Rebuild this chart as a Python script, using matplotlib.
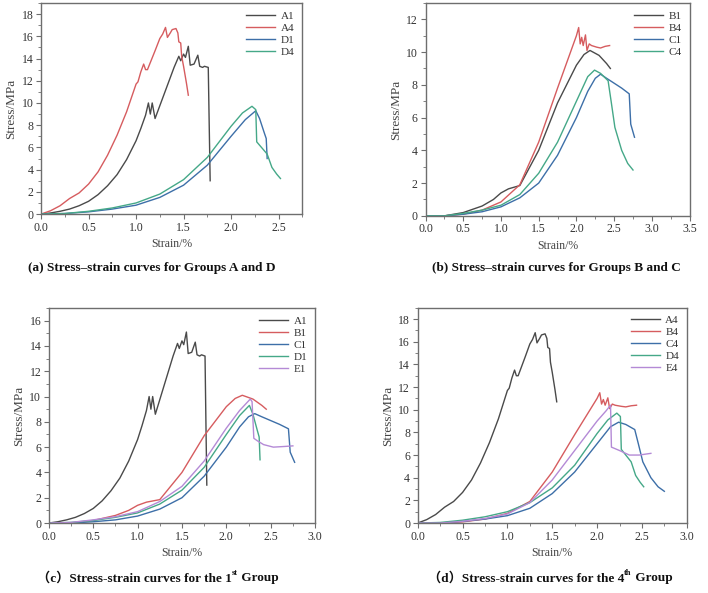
import matplotlib
matplotlib.use("Agg")
import matplotlib.pyplot as plt
import matplotlib.ticker as ticker

plt.rcParams["font.family"] = ["Liberation Serif", "Noto Sans CJK SC", "DejaVu Sans"]

# Specimen curves (strain %, stress MPa)
a1_strain = [0, 0.1, 0.2, 0.3, 0.4, 0.5, 0.6, 0.7, 0.8, 0.9, 1.0, 1.05, 1.1, 1.13, 1.15, 1.17,
             1.2, 1.3, 1.4, 1.45, 1.47, 1.5, 1.52, 1.55, 1.57, 1.61, 1.65, 1.67, 1.7, 1.72,
             1.76, 1.77, 1.78]
a1_stress = [0, 0.1, 0.25, 0.45, 0.75, 1.15, 1.75, 2.55, 3.55, 4.9, 6.6, 7.7, 8.9, 10.0, 9.0, 10.0,
             8.6, 10.9, 13.2, 14.2, 13.8, 14.4, 14.1, 15.1, 13.4, 13.5, 14.3, 13.3, 13.2, 13.3,
             13.2, 8.0, 3.0]

a4_strain = [0, 0.1, 0.2, 0.3, 0.4, 0.5, 0.6, 0.7, 0.8, 0.9, 1.0, 1.02, 1.05, 1.08, 1.1, 1.12,
             1.2, 1.25, 1.28, 1.31, 1.33, 1.36, 1.38, 1.42, 1.44, 1.45, 1.47, 1.48, 1.5, 1.53, 1.55]
a4_stress = [0, 0.3, 0.75, 1.4, 1.9, 2.7, 3.8, 5.3, 7.1, 9.2, 11.7, 11.9, 12.8, 13.5, 13.0, 13.0,
             14.7, 15.8, 16.2, 16.8, 15.9, 16.3, 16.6, 16.7, 16.3, 15.5, 15.4, 14.2, 13.3, 11.8, 10.7]

b1_strain = [0, 0.25, 0.5, 0.75, 0.9, 1.0, 1.1, 1.25, 1.5, 1.75, 2.0, 2.1, 2.18, 2.3, 2.4, 2.45]
b1_stress = [0, 0.0, 0.2, 0.6, 1.0, 1.4, 1.65, 1.85, 4.0, 6.9, 9.2, 9.85, 10.1, 9.8, 9.3, 9.0]

b4_strain = [0, 0.25, 0.5, 0.75, 1.0, 1.25, 1.5, 1.75, 2.0, 2.03, 2.05, 2.07, 2.09, 2.12, 2.14,
             2.17, 2.2, 2.27, 2.32, 2.38, 2.44]
b4_stress = [0, 0.0, 0.1, 0.35, 0.85, 1.9, 4.5, 7.8, 11.0, 11.5, 10.5, 10.9, 10.4, 11.05, 10.1,
             10.5, 10.4, 10.3, 10.25, 10.35, 10.4]

c1_strain = [0, 0.25, 0.5, 0.75, 1.0, 1.25, 1.5, 1.75, 2.0, 2.15, 2.25, 2.32, 2.4, 2.5, 2.6,
             2.7, 2.72, 2.77]
c1_stress = [0, 0.0, 0.1, 0.25, 0.55, 1.1, 2.0, 3.7, 6.0, 7.6, 8.4, 8.65, 8.4, 8.1, 7.8,
             7.45, 5.6, 4.8]

c4_strain = [0, 0.25, 0.5, 0.75, 1.0, 1.25, 1.5, 1.75, 2.0, 2.15, 2.24, 2.32, 2.42, 2.46, 2.51,
             2.6, 2.68, 2.75]
c4_stress = [0, 0.0, 0.15, 0.35, 0.65, 1.3, 2.6, 4.5, 7.0, 8.5, 8.9, 8.7, 8.25, 7.0, 5.4,
             4.0, 3.2, 2.8]

d1_strain = [0, 0.25, 0.5, 0.75, 1.0, 1.25, 1.5, 1.75, 2.0, 2.15, 2.26, 2.3, 2.35, 2.37, 2.38]
d1_stress = [0, 0.05, 0.2, 0.45, 0.8, 1.5, 2.6, 4.4, 7.0, 8.5, 9.3, 8.6, 7.3, 6.8, 5.0]

d4_strain = [0, 0.25, 0.5, 0.75, 1.0, 1.25, 1.5, 1.75, 2.0, 2.12, 2.22, 2.26, 2.27, 2.33, 2.38,
             2.43, 2.48, 2.52]
d4_stress = [0, 0.05, 0.25, 0.55, 1.0, 1.8, 3.1, 5.1, 7.9, 9.1, 9.7, 9.4, 6.5, 5.9, 5.4,
             4.2, 3.6, 3.2]

e1_strain = [0, 0.25, 0.5, 0.75, 1.0, 1.25, 1.5, 1.75, 2.0, 2.15, 2.27, 2.29, 2.31, 2.35, 2.42,
             2.53, 2.65, 2.75]
e1_stress = [0, 0.05, 0.25, 0.5, 0.9, 1.7, 2.9, 4.9, 7.5, 8.9, 9.8, 9.6, 6.7, 6.5, 6.2,
             6.0, 6.05, 6.1]

e4_strain = [0, 0.25, 0.5, 0.75, 1.0, 1.25, 1.5, 1.75, 2.0, 2.1, 2.15, 2.16, 2.25, 2.36, 2.47, 2.6]
e4_stress = [0, 0.0, 0.15, 0.4, 0.8, 1.8, 3.8, 6.4, 9.0, 9.9, 10.4, 6.7, 6.4, 6.0, 6.0, 6.15]

curves = {
    "A1": (a1_strain, a1_stress), "A4": (a4_strain, a4_stress),
    "B1": (b1_strain, b1_stress), "B4": (b4_strain, b4_stress),
    "C1": (c1_strain, c1_stress), "C4": (c4_strain, c4_stress),
    "D1": (d1_strain, d1_stress), "D4": (d4_strain, d4_stress),
    "E1": (e1_strain, e1_stress), "E4": (e4_strain, e4_stress),
}

colors = ["#4a4a4a", "#d65c5f", "#3d6fa8", "#45a888", "#b48ad6"]

panel_a = ["A1", "A4", "D1", "D4"]
panel_b = ["B1", "B4", "C1", "C4"]
panel_c = ["A1", "B1", "C1", "D1", "E1"]
panel_d = ["A4", "B4", "C4", "D4", "E4"]

# caption pieces: (text, is_superscript)
caption_a = [("(a) Stress\u2013strain curves for Groups A and D", False)]
caption_b = [("(b) Stress\u2013strain curves for Groups B and C", False)]
caption_c = [("\uff08c\uff09Stress-strain curves for the 1", False), ("st", True), (" Group", False)]
caption_d = [("\uff08d\uff09Stress-strain curves for the 4", False), ("th", True), (" Group", False)]

fig = plt.figure(figsize=(7.08, 5.93), dpi=100)
renderer = fig.canvas.get_renderer()

# (rect, names, xlim, ylim, caption, caption centre in px, caption y)
layout = [
    ([0.058, 0.639, 0.369, 0.356], panel_a, 2.75, 19, caption_a, 152, 0.548),
    ([0.601, 0.636, 0.373, 0.359], panel_b, 3.5, 13, caption_b, 556, 0.548),
    ([0.069, 0.118, 0.376, 0.3626], panel_c, 3.0, 17, caption_c, 158, 0.025),
    ([0.590, 0.118, 0.380, 0.363], panel_d, 3.0, 19, caption_d, 550, 0.025),
]


def draw_caption(pieces, cx_px, y):
    # lay the pieces left to right, then shift so the whole line is centred on cx_px
    texts = []
    x_px = 0.0
    for txt, sup in pieces:
        size = 6 if sup else 9.5
        dy = 0.009 if sup else 0.0
        t = fig.text(0, y + dy, txt, ha="left", va="center", fontsize=size,
                     fontweight="bold", color="#111111")
        w = t.get_window_extent(renderer).width
        texts.append((t, x_px))
        x_px += w
    left = cx_px - x_px / 2
    for t, off in texts:
        t.set_x((left + off) / fig.bbox.width)


spine_col = "#6e6e6e"
for rect, names, xmax, ymax, caption, cx, cy in layout:
    ax = fig.add_axes(rect)
    for name, col in zip(names, colors):
        x, y = curves[name]
        ax.plot(x, y, color=col, linewidth=1.0, label=name)
    ax.set_xlim(0, xmax)
    ax.set_ylim(0, ymax)
    ax.xaxis.set_major_locator(ticker.MultipleLocator(0.5))
    ax.yaxis.set_major_locator(ticker.MultipleLocator(2))
    ax.xaxis.set_minor_locator(ticker.AutoMinorLocator(2))
    ax.yaxis.set_minor_locator(ticker.AutoMinorLocator(2))
    ax.xaxis.set_major_formatter(ticker.FormatStrFormatter("%.1f"))
    for s in ax.spines.values():
        s.set_color(spine_col)
        s.set_linewidth(1.0)
    ax.tick_params(which="major", length=3.5, width=0.8, color=spine_col,
                   labelsize=8.5, labelcolor="#333333", pad=2)
    ax.tick_params(which="minor", length=2, width=0.6, color=spine_col)
    ax.set_xlabel("Strain/%", fontsize=8.5, color="#444444", labelpad=3)
    ax.set_ylabel("Stress/MPa", fontsize=9.5, color="#444444", labelpad=3)
    ax.legend(loc="upper right", frameon=False, fontsize=8, handlelength=2.6,
              labelspacing=0.2, borderaxespad=0.3, handletextpad=0.5,
              labelcolor="#333333")
    draw_caption(caption, cx, cy)

fig.savefig("out.png", dpi=100)
